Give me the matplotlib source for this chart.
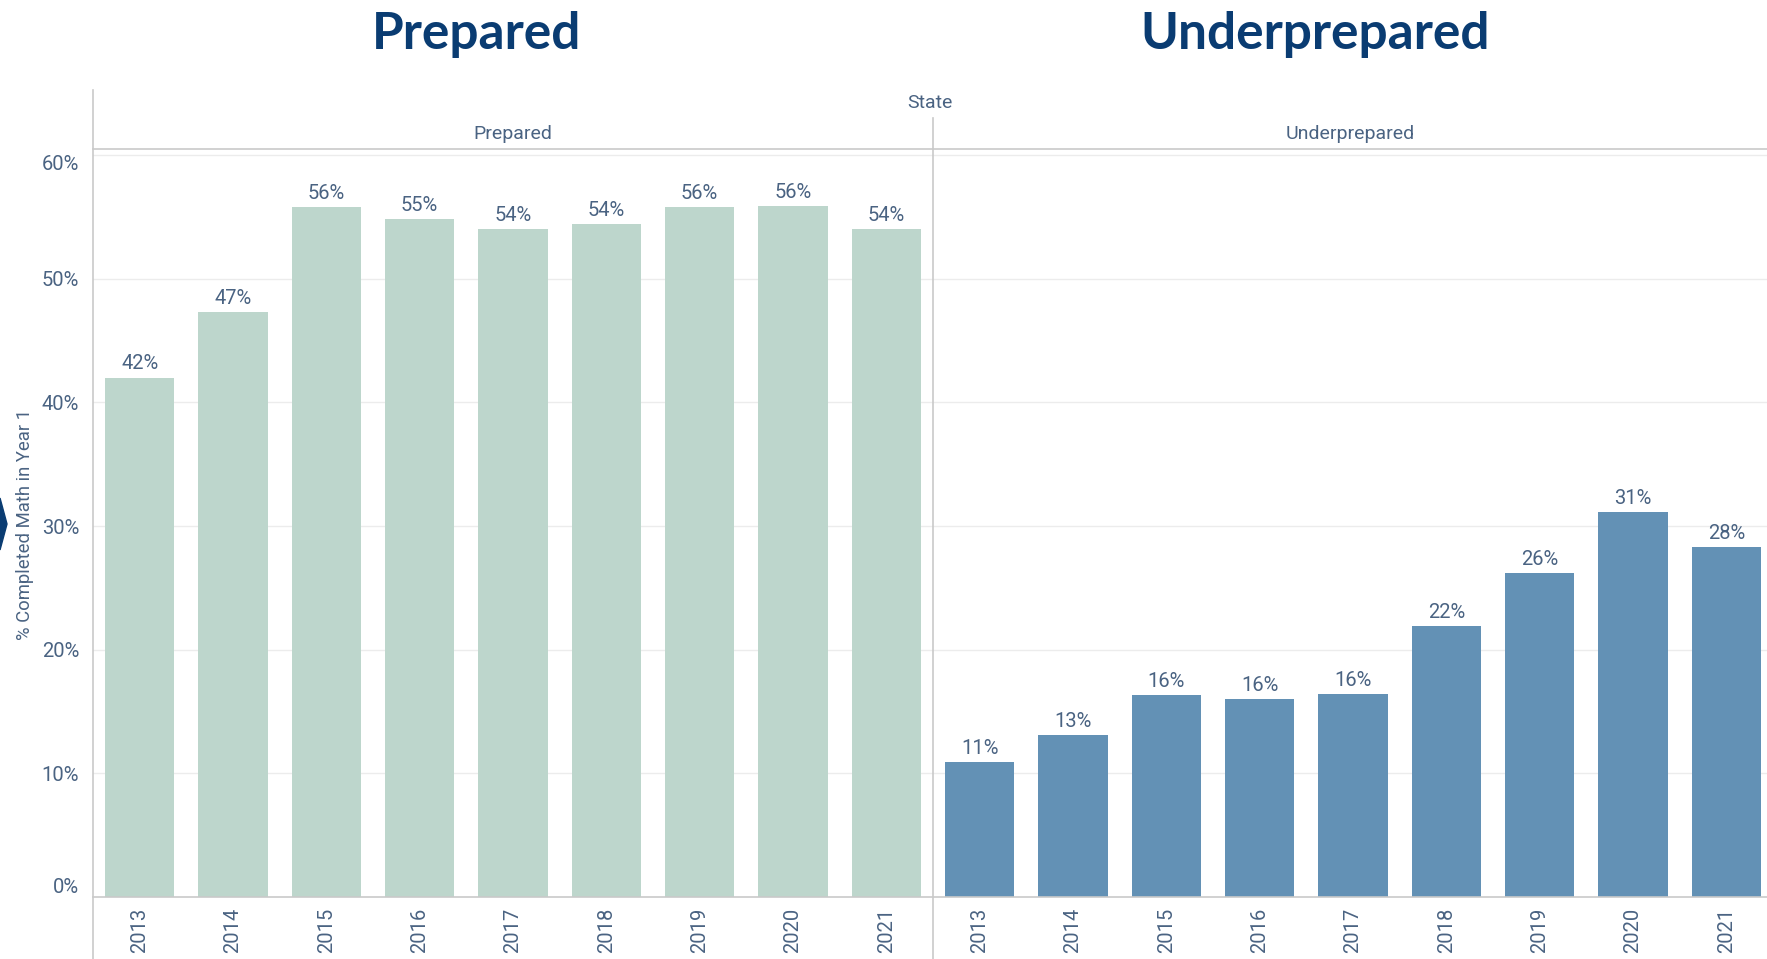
import matplotlib
matplotlib.use("Agg")
import matplotlib.pyplot as plt
from matplotlib.lines import Line2D
from matplotlib.patches import Polygon

years = ["2013", "2014", "2015", "2016", "2017", "2018", "2019", "2020", "2021"]
prepared = [42.0, 47.3, 55.8, 54.8, 54.0, 54.4, 55.8, 55.9, 54.0]
underprepared = [10.9, 13.1, 16.3, 16.0, 16.4, 21.9, 26.2, 31.1, 28.3]
y_ticks = [0, 10, 20, 30, 40, 50, 60]
panel_names = ["Prepared", "Underprepared"]

W, H = 1767, 959
fig = plt.figure(figsize=(W / 100, H / 100), dpi=100)
fig.patch.set_facecolor("white")

TXT = "#4a6382"
NAVY = "#0a3c72"
GRID = "#ececec"
LINE = "#c9c9c9"
C_PREP = "#bdd6cc"
C_UNDER = "#6391b5"
FS = 14.5


def fx(px):
    return px / W


def fy(py):
    return 1 - py / H


left0, mid, right0 = 93, 933, 1767
base_y, top_y = 897, 149
slot = (mid - left0) / 9.0
ymax = 60 + (155 - top_y) / ((base_y - 155) / 60.0)

axes = []
for i, (vals, color) in enumerate([(prepared, C_PREP), (underprepared, C_UNDER)]):
    x0 = left0 if i == 0 else mid
    x1 = mid if i == 0 else right0
    ax = fig.add_axes([fx(x0), fy(base_y), fx(x1 - x0), fy(top_y) - fy(base_y)])
    xs = list(range(len(years)))
    ax.bar(xs, vals, width=0.74, color=color, zorder=2)
    ax.set_xlim(-0.5, -0.5 + (x1 - x0) / slot)
    ax.set_ylim(0, ymax)
    ax.set_yticks(y_ticks)
    for t in y_ticks[1:]:
        ax.axhline(t, color=GRID, lw=1, zorder=0)
    for x, v in zip(xs, vals):
        ax.annotate(f"{v:.0f}%", (x, v), xytext=(0, 3), textcoords="offset points",
                    ha="center", va="bottom", fontsize=FS, color=TXT,
                    family="Roboto")
    ax.set_xticks(xs)
    ax.set_xticklabels(years, rotation=90, fontsize=FS, color=TXT, family="Roboto")
    ax.tick_params(axis="x", length=0, pad=8)
    for s in ax.spines.values():
        s.set_visible(False)
    if i == 0:
        ax.set_yticklabels([f"{t}%" for t in y_ticks], fontsize=FS, color=TXT,
                           family="Roboto")
        ax.tick_params(axis="y", length=0, pad=10)
        labs = ax.get_yticklabels()
        labs[0].set_va("bottom")
        labs[-1].set_va("top")
    else:
        ax.set_yticks([])
    bb = ax.get_position()
    fig.text((bb.x0 + bb.x1) / 2, fy(134), panel_names[i], ha="center", va="center",
             fontsize=14, color=TXT, family="Roboto")
    axes.append(ax)

# frame lines
fig.add_artist(Line2D([fx(left0), fx(right0)], [fy(top_y), fy(top_y)], color=LINE, lw=1.2))
fig.add_artist(Line2D([fx(left0), fx(right0)], [fy(base_y), fy(base_y)], color=LINE, lw=1.2))
fig.add_artist(Line2D([fx(left0), fx(left0)], [fy(90), 0], color=LINE, lw=1.2))
fig.add_artist(Line2D([fx(mid), fx(mid)], [fy(118), 0], color=LINE, lw=1.2))

fig.text(fx((left0 + right0) / 2), fy(103), "State", ha="center", va="center",
         fontsize=14, color=TXT, family="Roboto")
fig.text(fx(25), fy(524), "% Completed Math in Year 1", rotation=90, ha="center",
         va="center", fontsize=13.3, color=TXT, family="Roboto")

fig.text(fx(477), fy(35), "Prepared", ha="center", va="center", fontsize=37,
         fontweight="bold", color=NAVY, family="Lato")
fig.text(fx(1315), fy(35), "Underprepared", ha="center", va="center", fontsize=37,
         fontweight="bold", color=NAVY, family="Lato")

# decorative chevron tip at left edge
fig.add_artist(Polygon([[0, fy(498)], [fx(7), fy(524)], [0, fy(550)]],
                       closed=True, transform=fig.transFigure, color=NAVY))

fig.savefig("out.png", dpi=100, facecolor="white")
